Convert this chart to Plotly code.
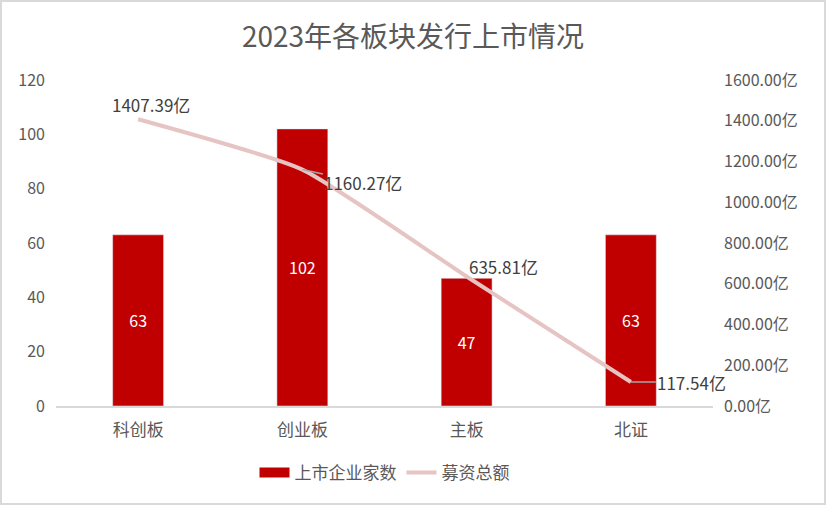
import plotly.graph_objects as go

# 数据
bankuai = ["科创板", "创业板", "主板", "北证"]
jiashu = [63, 102, 47, 63]
mujin = [1407.39, 1160.27, 635.81, 117.54]
mujin_text = [f"{v:.2f}亿" for v in mujin]
you_ticks = [0, 200, 400, 600, 800, 1000, 1200, 1400, 1600]
you_ticktext = [f"{v:.2f}亿" for v in you_ticks]

# 标签偏移（像素）和引导线
label_dx = [13, 61, 37, 61]
label_dy = [-15, 13, -10, 0]
leader = [False, True, False, True]

FONT = "Noto Sans CJK SC"
GRIS = "#595959"

fig = go.Figure()

# 柱状图：上市企业家数
fig.add_trace(
    go.Bar(
        x=bankuai,
        y=jiashu,
        name="上市企业家数",
        marker_color="#C00000",
        text=jiashu,
        textposition="inside",
        insidetextanchor="middle",
        textfont=dict(color="white", size=16, family=FONT),
        width=0.31,
        showlegend=False,
    )
)

# 图例用的宽色块（柱状图图例在plotly里是小方块）
fig.add_trace(
    go.Scatter(
        x=[bankuai[0]],
        y=[None],
        mode="lines",
        name="上市企业家数",
        line=dict(color="#C00000", width=12),
    )
)

# 折线：募资总额（副轴）
fig.add_trace(
    go.Scatter(
        x=bankuai,
        y=mujin,
        name="募资总额",
        yaxis="y2",
        mode="lines",
        line=dict(color="#E6C4C4", width=4, shape="spline", smoothing=0.5),
    )
)

# 数据标签
for cat, v, t, dx, dy, ld in zip(bankuai, mujin, mujin_text, label_dx, label_dy, leader):
    if ld:
        fig.add_annotation(
            x=cat, y=v, xref="x", yref="y2", text=t,
            showarrow=True, arrowhead=0, arrowwidth=1.5, arrowcolor="#A6A6A6",
            ax=dx, ay=dy, standoff=0,
            font=dict(size=17, color="#404040", family=FONT),
        )
    else:
        fig.add_annotation(
            x=cat, y=v, xref="x", yref="y2", text=t,
            showarrow=False, xshift=dx, yshift=-dy,
            font=dict(size=17, color="#404040", family=FONT),
        )

fig.update_layout(
    width=826,
    height=505,
    margin=dict(l=56, r=113, t=80, b=99),
    paper_bgcolor="white",
    plot_bgcolor="white",
    font=dict(family=FONT, color=GRIS),
    title=dict(
        text="2023年各板块发行上市情况",
        x=0.5,
        xanchor="center",
        y=1 - 37 / 505,
        yanchor="middle",
        font=dict(size=28, color=GRIS, family=FONT),
    ),
    xaxis=dict(
        range=[-0.5, len(bankuai) - 0.5],
        showgrid=False,
        showline=True,
        linecolor="#D9D9D9",
        linewidth=2,
        tickfont=dict(size=17, color=GRIS),
        ticks="",
        ticklabelstandoff=8,
        automargin=False,
    ),
    yaxis=dict(
        range=[0, 120],
        dtick=20,
        showgrid=False,
        zeroline=False,
        tickfont=dict(size=16, color=GRIS),
        ticklabelstandoff=10,
        automargin=False,
    ),
    yaxis2=dict(
        overlaying="y",
        side="right",
        range=[0, 1600],
        tickvals=you_ticks,
        ticktext=you_ticktext,
        showgrid=False,
        zeroline=False,
        tickfont=dict(size=16, color=GRIS),
        ticklabelstandoff=10,
        automargin=False,
    ),
    legend=dict(
        orientation="h",
        x=0.5,
        xanchor="center",
        y=-0.205,
        yanchor="middle",
        font=dict(size=17, color=GRIS),
    ),
)

# 外框
fig.add_shape(
    type="rect",
    xref="paper",
    yref="paper",
    x0=(1 - 56) / 657,
    x1=(825 - 56) / 657,
    y0=(406 - 504) / 326,
    y1=(406 - 1) / 326,
    line=dict(color="#D9D9D9", width=2),
    fillcolor="rgba(0,0,0,0)",
    layer="below",
)

fig.write_html(
    "out.html",
    config={"displayModeBar": False},
    post_script="document.body.style.margin='0';",
)
